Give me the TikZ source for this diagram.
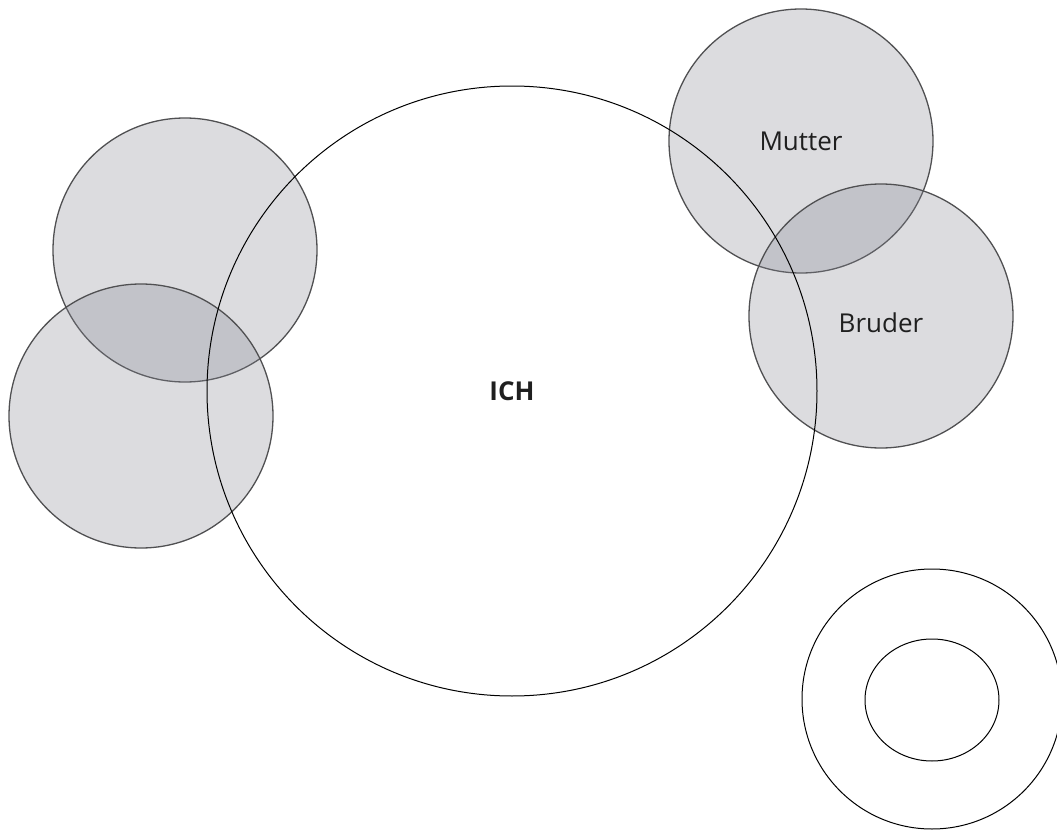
\documentclass[tikz,border=0pt]{standalone}
\usepackage{fontspec}
\setmainfont{Open Sans}
\usepackage{xcolor}
\usepackage{tikz}
\usetikzlibrary{shapes.geometric}

\definecolor{kreisgrau}{RGB}{133,135,146}
\definecolor{randgrau}{RGB}{80,80,82}

\begin{document}
\begin{tikzpicture}[
  x=0.5pt, y=-0.5pt,
  person/.style={draw=randgrau, line width=0.65pt, circle, fill=kreisgrau, fill opacity=0.29, draw opacity=1, minimum size=#1},
  ring/.style={draw=black, line width=0.5pt, circle, minimum size=#1},
  beschriftung/.style={font=\fontsize{13}{15}\selectfont, text=black!88}
]
  \useasboundingbox (0,0) rectangle (1057,830);

  % Kreise links
  \node[person=132pt] (links1) at (185,250) {};
  \node[person=132pt] (links2) at (141,416) {};

  % Familie rechts
  \node[person=132pt] (mutter) at (801,141) {};
  \node[person=132pt] (bruder) at (881,316) {};

  % ICH
  \node[ring=305pt] (ich) at (512,391) {};

  % Ring unten rechts
  \node[ring=130pt] (aussen) at (932,699) {};
  \node[draw=black, line width=0.5pt, ellipse, minimum width=67pt, minimum height=61pt] (innen) at (932,700) {};

  \node[beschriftung] (ichlbl) at (ich.center) {\bfseries ICH};
  \node[beschriftung] (mutterlbl) at (mutter.center) {Mutter};
  \node[beschriftung] (bruderlbl) at ([yshift=-3.5pt]bruder.center) {Bruder};
\end{tikzpicture}
\end{document}
